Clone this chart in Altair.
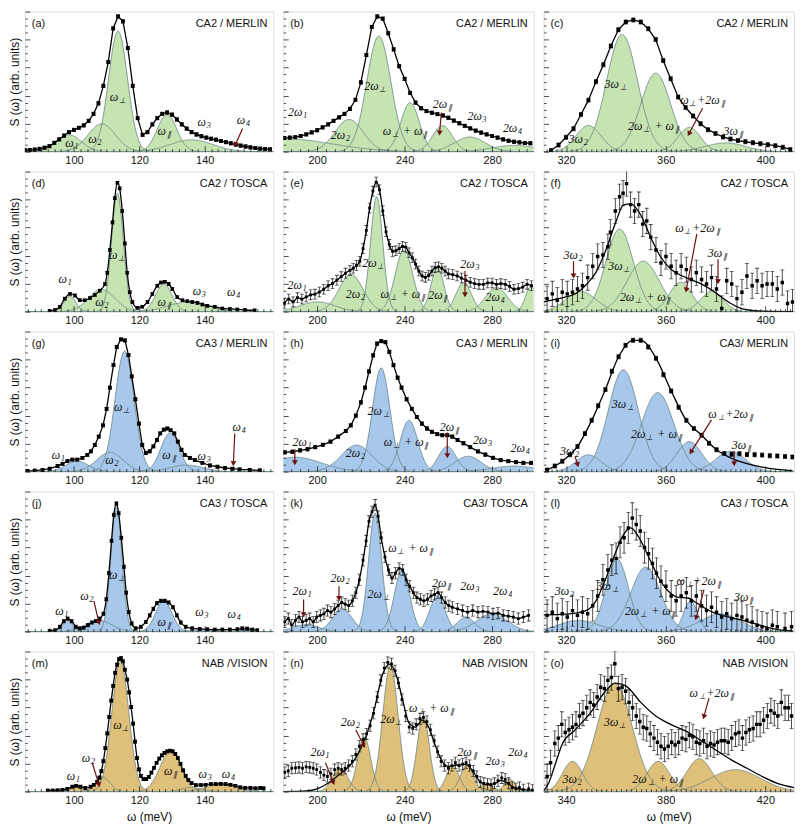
import math
import altair as alt
import numpy as np
import pandas as pd

# ---------------- data (y in % of panel height) ----------------
A_X = [85.0, 86.5, 88.0, 89.5, 91.0, 92.5, 94.0, 95.5, 97.0, 98.5, 100.0, 101.5, 103.0, 104.5, 106.0, 107.5, 109.0, 110.5, 112.0, 113.5, 115.0, 116.5, 118.0, 119.5, 121.0, 122.5, 124.0, 125.5, 127.0, 128.5, 130.0, 131.5, 133.0, 134.5, 136.0, 137.5, 139.0, 140.5, 142.0, 143.5, 145.0, 146.5, 148.0, 149.5, 151.0, 152.5, 154.0, 155.5, 157.0, 158.5, 160.0]
A_Y = [1.0, 1.2, 1.5, 2.0, 2.8, 4.0, 6.3, 8.8, 11.5, 14.0, 15.6, 17.0, 18.8, 22.0, 27.0, 34.5, 47.0, 64.0, 88.0, 96.5, 93.0, 74.0, 47.0, 24.0, 12.0, 14.0, 19.5, 24.0, 27.0, 28.0, 26.5, 23.0, 19.5, 16.5, 14.0, 12.3, 11.0, 10.0, 9.2, 8.5, 7.6, 6.8, 6.0, 5.0, 4.3, 3.7, 3.1, 2.6, 2.2, 1.9, 1.6]
A_COMPS = [(98.5, 12, 3.8), (108.5, 19.8, 4.2), (113.5, 86, 2.9), (128.5, 26.5, 3.0), (136, 8.5, 6.5)]
A_LABELS = [(113.5, 39, "ω_⊥"), (99.5, 6, "ω_1"), (106.6, 9, "ω_2"), (127.8, 15, "ω_∥"), (140, 21, "ω_3"), (152, 22.5, "ω_4")]
A_ARROWS = [(151.6, 16.5, 149.5, 5.5)]

B_X = [185, 187.5, 190, 192.5, 195, 197.5, 200, 202.5, 205, 207.5, 210, 212.5, 215, 217.5, 220, 222.5, 225, 227.5, 230, 232.5, 235, 237.5, 240, 242.5, 245, 247.5, 250, 252.5, 255, 257.5, 260, 262.5, 265, 267.5, 270, 272.5, 275, 277.5, 280, 282.5, 285, 287.5, 290, 292.5, 295, 297.5]
B_Y = [9.8, 10.0, 10.4, 11.2, 12.4, 13.8, 15.3, 17.3, 19.5, 22.0, 24.5, 27.0, 30.5, 37.0, 49.5, 69.0, 89.0, 96.5, 95.0, 84.5, 73.0, 61.0, 52.0, 42.0, 35.0, 31.0, 29.0, 27.8, 26.8, 25.8, 24.2, 22.2, 20.3, 18.4, 16.6, 15.0, 13.6, 12.4, 11.2, 10.0, 8.8, 7.8, 7.1, 6.6, 6.2, 6.0]
B_COMPS = [(184.5, 9.3, 22), (214.6, 23, 6.5), (228.2, 82.5, 5.5), (242.5, 35, 4.2), (257.3, 18.6, 4.5), (269.8, 10.5, 7), (290, 4.5, 10)]
B_LABELS = [(191.3, 28, "2ω_1"), (210.8, 11.6, "2ω_2"), (226.7, 47, "2ω_⊥"), (240.5, 14.5, "ω_⊥ + ω_∥"), (257.5, 34, "2ω_∥"), (273.3, 25.6, "2ω_3"), (289.5, 17, "2ω_4")]
B_ARROWS = [(256.8, 28, 256, 14)]

C_X = [314, 317, 320, 323, 326, 329, 332, 335, 338, 341, 344, 347, 350, 353, 356, 359, 362, 365, 368, 371, 374, 377, 380, 383, 386, 389, 392, 395, 398, 401, 404, 407, 410]
C_Y = [0.8, 4.7, 10.3, 16.4, 26.5, 36.8, 50.0, 62.0, 75.5, 87.0, 92.6, 94.0, 92.6, 87.7, 80.0, 65.0, 52.0, 39.0, 31.5, 25.5, 20.0, 15.7, 13.0, 10.5, 9.0, 7.9, 7.1, 6.3, 5.7, 5.0, 4.3, 3.2, 1.6]
C_COMPS = [(329, 18.7, 5), (342.5, 83.6, 6.2), (356, 56, 6), (369.5, 17.3, 4.5), (384, 6.3, 8)]
C_LABELS = [(325, 8.7, "3ω_2"), (340, 48.5, "3ω_⊥"), (355.3, 18, "2ω_⊥ + ω_∥"), (375, 37, "ω_⊥+2ω_∥"), (387.3, 14.5, "3ω_∥")]
C_ARROWS = [(374.8, 31, 369.5, 13.3)]

D_X = [92.6, 94.2, 95.7, 97.2, 98.8, 100.3, 101.8, 103.3, 104.9, 106.4, 107.9, 109.5, 110.2, 111.0, 111.8, 112.5, 113.3, 114.0, 114.8, 115.6, 116.3, 117.1, 117.9, 119.4, 120.9, 122.5, 124.0, 125.5, 126.6, 127.8, 129.0, 130.1, 131.6, 133.2, 134.7, 136.2, 137.8, 139.3, 140.8, 143.1, 145.4, 147.7, 150.0, 152.3, 155.3]
D_Y = [0.5, 1.2, 3.5, 9.3, 12.7, 11.6, 8.1, 8.1, 9.7, 12.0, 15.0, 19.7, 27.8, 44.0, 63.7, 81.0, 92.0, 88.0, 71.8, 48.6, 27.8, 13.9, 6.9, 2.8, 3.5, 6.9, 12.7, 18.5, 20.8, 21.3, 19.7, 16.2, 10.4, 8.1, 7.4, 6.9, 6.3, 5.1, 4.2, 3.5, 2.3, 1.9, 1.6, 1.2, 0.9]
D_COMPS = [(98.8, 11, 1.8), (108.5, 16, 4), (113.3, 84.5, 1.8), (127.5, 19.7, 2.5), (135, 7, 6)]
D_LABELS = [(97.5, 23, "ω_1"), (108.7, 7, "ω_2"), (113.3, 40.5, "ω_⊥"), (127.8, 7, "ω_∥"), (138.5, 15, "ω_3"), (149, 14, "ω_4")]
D_ARROWS = []

E_X = [185, 187, 189, 191, 193, 195, 197, 199, 201, 203, 205, 207, 209, 211, 213, 215, 216.5, 218, 219.5, 221, 222.5, 224, 225.5, 227, 228.5, 230, 231.5, 233, 234.5, 236, 237.5, 239, 240.5, 242, 243.5, 245, 246.5, 248, 249.5, 251, 252.5, 254, 255.5, 257, 258.5, 260, 262, 264, 266, 268, 270, 272, 274, 276, 278, 280, 282, 284, 286, 288, 290, 292, 294, 296, 298]
E_Y = [6, 9, 7, 10, 9, 10.5, 12, 12.5, 14, 16, 18.5, 20, 22.5, 25, 27.5, 29.5, 31, 33, 36, 45, 58, 74, 86, 92.5, 87, 72, 57, 48, 43, 43.5, 45, 46.5, 46, 42, 38.5, 34, 29, 25.5, 24.5, 26, 29, 31.5, 32, 31, 29, 27, 26.5, 25.5, 24, 22.5, 21, 20, 19.5, 19.5, 20.5, 20.5, 19.5, 20, 19.5, 18, 16, 16.5, 17.5, 19.5, 18.5]
E_COMPS = [(200, 7, 8), (215.5, 26.6, 5.5), (227.2, 82, 2.8), (239.7, 44, 4), (255, 31, 3), (267, 20.8, 3.5), (282, 17.4, 5), (297.8, 18, 2.5)]
E_LABELS = [(191, 19, "2ω_1"), (217.7, 12.7, "2ω_2"), (225.8, 34.7, "2ω_⊥"), (239.5, 12.7, "ω_⊥ + ω_∥"), (255.5, 11.6, "2ω_∥"), (270, 34, "2ω_3"), (281.6, 10.4, "2ω_4")]
E_ARROWS = [(267.6, 29, 267.6, 12.7)]

F_X = [312.4, 314.5, 316.5, 318.5, 320.5, 322.6, 324.6, 326.6, 328.7, 330.7, 332.7, 334.8, 336.8, 337.8, 339.8, 341.5, 342.9, 344.3, 345.9, 347.5, 349.2, 350.8, 352.4, 354.0, 356.1, 358.1, 360.1, 362.2, 364.2, 366.2, 368.3, 370.3, 372.3, 374.4, 376.4, 378.4, 380.4, 382.5, 384.5, 386.5, 388.6, 390.6, 392.6, 394.7, 396.7, 398.7, 400.7, 402.8, 404.8, 406.8, 408.9, 410.9]
F_Y = [9.3, 12.7, 8.1, 13.9, 12.7, 13.9, 16.2, 18.5, 24.3, 32.4, 39.4, 40.5, 46.3, 56.7, 71.8, 82, 84.5, 91.4, 76.4, 71.8, 76.4, 62.5, 64.8, 53.2, 44, 34.7, 39.4, 32.4, 27.8, 32.4, 30, 23, 27.8, 23, 19.7, 24.3, 16.2, 2.3, 22, 19.7, 9.3, 13.9, 25.5, 18.5, 22, 18.5, 19.7, 19.7, 16.2, 20.8, 5.8, 6.9]
F_FIT_X = [311, 316, 320, 324, 328, 332, 336, 340, 343, 346, 350, 354, 358, 362, 366, 370, 374, 378, 382, 386, 390, 395, 400, 411]
F_FIT_Y = [7, 9, 10.5, 13, 19, 28, 44, 64, 76, 77, 69, 53, 39, 30.5, 26, 23, 20, 16, 11, 6, 2.5, 0.8, 0.3, 0]
F_COMPS = [(326, 14.4, 6), (341.5, 59, 5.5), (351, 36, 6.5), (366, 21, 4.5), (378.5, 14.4, 4.5)]
F_LABELS = [(323, 40.5, "3ω_2"), (341.5, 32.4, "3ω_⊥"), (352, 10.4, "2ω_⊥ + ω_∥"), (373, 60, "ω_⊥+2ω_∥"), (381, 42, "3ω_∥")]
F_ARROWS = [(323, 36, 323, 26), (372.5, 55.5, 368.3, 16), (381, 37.5, 381, 22)]

G_X = [85.8, 88, 90.4, 92.6, 95, 96.5, 98, 99.5, 101, 102.6, 104.1, 105.2, 106.4, 107.6, 108.9, 110, 111, 112.1, 113.1, 114.4, 115.6, 116.7, 117.7, 118.8, 119.9, 120.9, 122, 123.2, 124.3, 125.4, 126.4, 127.5, 128.6, 129.6, 130.7, 131.8, 132.9, 133.9, 135.5, 137, 139.3, 141.6, 143.9, 146.2, 148.5, 150.7, 153.8, 156.9]
G_Y = [0.5, 0.7, 1.2, 2.1, 4, 5.6, 7.5, 8.6, 8.6, 9.8, 12, 14.5, 19, 25, 33, 44.8, 60, 76, 89, 94.4, 93.7, 83.2, 68, 51.7, 34.3, 19, 13.3, 14.5, 18, 22.6, 27.3, 30, 30.8, 29.6, 27.3, 21.4, 15.6, 12, 9.8, 8.2, 6.3, 4.4, 3.5, 2.6, 2.1, 1.6, 1.2, 0.9]
G_COMPS = [(101, 7.5, 3.5), (111, 13.8, 4), (115.5, 86, 2.9), (129.4, 27.7, 2.8), (134.5, 4.7, 5)]
G_LABELS = [(95.4, 12, "ω_1"), (111.8, 8.6, "ω_2"), (114.8, 46, "ω_⊥"), (129.3, 12, "ω_∥"), (140, 11, "ω_3"), (150.7, 31.5, "ω_4")]
G_ARROWS = [(149.2, 27.3, 148.8, 6.3)]

H_X = [185.2, 188.7, 192.2, 195.6, 199.1, 202.6, 206.1, 209.6, 213.1, 215.4, 217.7, 220, 221.9, 223.7, 225.6, 227.4, 229.3, 231.2, 233, 234.9, 236.8, 238.6, 240.9, 243.3, 245.6, 247.9, 250.2, 252.5, 254.9, 257.2, 259.5, 261.8, 264.2, 266.9, 270, 273.5, 276.9, 280.4, 283.9, 287.4, 290.9, 294.3, 297.8]
H_Y = [13.8, 14.2, 15.2, 16, 17.5, 19.1, 21.4, 25, 29, 33, 40, 49.4, 60, 71.5, 83, 91.4, 93.2, 92.5, 85.5, 76, 67, 60, 51.7, 44.8, 39, 34.3, 30.8, 28.4, 26.8, 26.1, 26.1, 25, 22.6, 20.3, 17.5, 14.5, 12.1, 9.8, 8.2, 7.5, 6.8, 6.3, 6.3]
H_COMPS = [(190, 10.3, 12), (218, 19, 7), (229.3, 74, 4), (242, 36.6, 4), (259.5, 18, 4), (269, 11, 6), (290, 4, 10)]
H_LABELS = [(193.3, 21.4, "2ω_1"), (217.7, 13.3, "2ω_2"), (228.2, 43.6, "2ω_⊥"), (241, 21.4, "ω_⊥ + ω_∥"), (260.7, 32, "2ω_∥"), (275.8, 22.6, "2ω_3"), (293, 16.8, "2ω_4")]
H_ARROWS = [(189.8, 16, 189.8, 7), (259.5, 28, 259.5, 12)]

I_X = [312.4, 315.5, 318.5, 321.6, 324.6, 327.6, 330.3, 332.9, 335.8, 338.4, 341.1, 343.9, 346.9, 350, 353, 356.1, 359.1, 362.2, 365.2, 368.3, 371.3, 374.4, 377.4, 380.4, 383.5, 386.5, 389.6, 392.6, 395.7, 398.7, 401.8, 404.8, 407.9, 410.9]
I_Y = [1.2, 4, 7.5, 12.1, 18, 27.3, 36.6, 47, 58.7, 71.6, 82, 90.2, 93.7, 93.7, 89, 81, 69.2, 57.6, 46, 36.6, 30.8, 26, 20.3, 15.6, 13, 12.5, 12.8, 12.3, 12, 11.8, 11.4, 11.2, 10.8, 10.5]
I_FIT_X = [312.4, 318.5, 324.6, 330.3, 335.8, 341.1, 346.9, 350, 356.1, 362.2, 368.3, 374.4, 380.4, 386.5, 392.6, 398.7, 404.8, 410.9]
I_FIT_Y = [1.2, 7.5, 18, 36.6, 58.7, 82, 93.7, 93.7, 81, 57.6, 36.6, 26, 15.6, 9.5, 5.8, 3.3, 1.7, 0.8]
I_COMPS = [(329, 12, 5), (343, 72.7, 6), (356.8, 56.4, 6.5), (369.5, 21.4, 5), (386, 14.5, 6)]
I_LABELS = [(321.6, 14.5, "3ω_2"), (342.9, 48, "3ω_⊥"), (356.5, 27, "2ω_⊥ + ω_∥"), (386.3, 41, "ω_⊥+2ω_∥"), (390.6, 19, "3ω_∥")]
I_ARROWS = [(323.6, 11, 324.6, 5.5), (378.4, 37, 370.3, 14.5), (387.5, 15, 387.5, 6.3)]

J_X = [92.6, 94.2, 95.7, 96.9, 98.1, 99.3, 100.6, 101.8, 103, 104.3, 105.5, 106.7, 107.9, 109, 109.9, 110.7, 111.5, 112.2, 113, 113.7, 114.5, 115.3, 116, 116.8, 117.7, 118.9, 120.5, 122, 123.2, 124.3, 125.4, 126.6, 127.8, 129, 130.3, 131.5, 132.7, 134.2, 136.2, 138.5, 140.8, 143.1, 145.4, 147.7, 150, 151.5, 153, 154.6, 156.1]
J_Y = [0.5, 0.9, 3.5, 7.4, 9.3, 7.4, 3.5, 2.3, 2.8, 4.6, 6.5, 7.6, 9.3, 12.7, 23.1, 41.7, 64.8, 83.3, 91.4, 84.5, 67, 46.3, 27.8, 13.9, 5.8, 2.3, 3.5, 6.9, 11.6, 16.2, 20.4, 22, 22, 20.8, 17.4, 11.6, 6.5, 3.5, 2.3, 1.9, 1.6, 1.4, 1.4, 1.4, 1.6, 2.3, 2.1, 1.4, 0.9]
J_COMPS = [(98.1, 8, 1.5), (107.5, 8.1, 4), (113, 89, 1.7), (127.5, 22, 2.5), (140, 1.2, 4), (152, 1.5, 2)]
J_LABELS = [(96.5, 15, "ω_1"), (104.1, 25.5, "ω_2"), (113.3, 40.5, "ω_⊥"), (127.8, 7, "ω_∥"), (139.3, 14, "ω_3"), (149.2, 12.7, "ω_4")]
J_ARROWS = [(106.1, 22, 107.6, 7)]

K_X = [185.2, 186.8, 188.4, 190.1, 191.7, 193.3, 195, 196.6, 198.2, 199.8, 201.5, 203.1, 204.7, 206.3, 208, 209.6, 211.2, 212.8, 214.4, 216.1, 217.7, 219.3, 221, 222.4, 223.7, 225.1, 226.5, 227.9, 229.3, 231, 232.6, 234.2, 235.8, 237.5, 239.1, 240.7, 242.3, 244, 245.6, 247.2, 248.8, 250.5, 252.1, 253.7, 255.3, 256.9, 258.6, 260.2, 261.8, 264.2, 266.5, 268.8, 271.1, 273.5, 275.8, 278.1, 280.4, 282.7, 285.1, 287.4, 289.7, 292, 294.3, 296.7]
K_Y = [6.9, 9.3, 4.6, 8.1, 10.4, 6.9, 8.1, 9.3, 6.9, 10.4, 11.6, 12.7, 15, 13.9, 16.2, 18.5, 20.8, 19.7, 18.5, 22, 27.8, 37, 51, 64.8, 78.7, 85.6, 90.3, 82.2, 67, 53.2, 44, 38.2, 41.7, 45.1, 44, 37, 32.4, 27.8, 24.3, 23.1, 22, 23.1, 25.5, 26.6, 27.8, 24.3, 20.8, 18.5, 17.4, 16.2, 15, 13.9, 15, 13.9, 14.4, 13.9, 12.7, 13.2, 11.6, 11.1, 10.4, 9.3, 10.4, 11.6]
K_COMPS = [(195, 5, 6), (211.5, 16, 4.5), (226.5, 84.5, 3), (238.8, 44, 3.5), (255, 25.5, 3.5), (268, 10.4, 4), (280, 12.7, 7)]
K_LABELS = [(193.3, 29, "2ω_1"), (210.7, 38, "2ω_2"), (228.2, 26.6, "2ω_⊥"), (243, 60, "ω_⊥ + ω_∥"), (257.2, 34.7, "2ω_∥"), (270, 32.4, "2ω_3"), (285, 29, "2ω_4")]
K_ARROWS = [(193.8, 23, 193.8, 12.7), (210, 32.4, 210, 24.3)]

L_X = [312.4, 314.5, 316.5, 318.5, 320.5, 322.6, 324.6, 326.6, 328.7, 330.7, 332.7, 334.8, 336.8, 338.4, 340.1, 341.7, 343.3, 345, 346.6, 348.2, 349.8, 351.5, 353.1, 354.7, 356.3, 358.1, 360.1, 362.2, 364.2, 366.2, 368.3, 370.3, 372.3, 374.4, 376.4, 378.4, 380.4, 382.5, 384.5, 386.5, 388.6, 390.6, 392.6, 394.7, 396.7, 398.7, 400.7, 402.8, 404.8, 407.9, 410.5]
L_Y = [11.6, 13.9, 9.3, 12.7, 10.4, 15, 11.6, 13.9, 12.7, 18.5, 25.5, 37, 44, 51, 52.3, 63.7, 67, 74, 81, 76.4, 71.8, 60, 55.6, 48.6, 41.7, 35.9, 32.4, 25.5, 22, 25.5, 27.8, 22, 25.5, 18.5, 15, 17.4, 13.9, 10.4, 12.7, 9.3, 11.6, 10.4, 8.1, 6.9, 4.6, 3.5, 2.3, 4.6, 3.5, 2.3, 3.5]
L_FIT_X = [311, 320, 328, 332, 336, 340, 343, 346, 349, 353, 357, 361, 365, 369, 372, 376, 380, 385, 390, 395, 400, 405, 411]
L_FIT_Y = [12, 12.5, 15, 22, 38, 57, 69, 74, 68, 54, 39, 29, 24.5, 24, 21, 16.5, 13, 10.5, 8.5, 6, 3.5, 1.5, 0.5]
L_COMPS = [(325, 8, 8), (340.5, 52, 4.5), (352, 46, 6), (370, 22, 2.8), (382, 12.7, 8)]
L_LABELS = [(319.5, 29, "3ω_2"), (336.8, 32.4, "3ω_⊥"), (354, 15, "2ω_⊥ + ω_∥"), (373.5, 36, "ω_⊥+2ω_∥"), (391.5, 25, "3ω_∥")]
L_ARROWS = [(375.4, 30, 372.3, 10.4)]

M_X = [92, 93.5, 95, 96.5, 98, 99.5, 100.7, 102, 103.5, 105.1, 106.1, 107.1, 107.8, 108.4, 109, 109.6, 110.2, 110.8, 111.4, 112, 112.6, 113.2, 113.8, 114.4, 115, 115.6, 116.3, 116.9, 117.5, 118.1, 118.7, 119.3, 119.9, 120.5, 121.3, 122.1, 122.9, 123.7, 124.5, 125.3, 126.1, 126.9, 127.7, 128.5, 129.4, 130.2, 131, 131.8, 132.6, 133.4, 134.2, 135, 136, 137.3, 138.8, 140.3, 141.9, 143.4, 144.9, 146.4, 147.9, 149.4, 150.9, 152.4, 154, 155.5, 157, 158]
M_Y = [0.7, 0.7, 0.9, 1.2, 1.9, 3.5, 4.2, 3.5, 2.6, 3.5, 4.9, 7, 10, 14.7, 21.7, 31, 41.6, 53.3, 65, 75.5, 84.8, 90.7, 94.6, 95.3, 93, 87, 80, 70.8, 60.3, 48.6, 35.7, 24, 15.9, 11.2, 8.9, 8.9, 10.5, 13.6, 17, 20.6, 23.6, 25.9, 27.6, 28.7, 29.2, 28.7, 26.9, 24, 19.9, 15.2, 11.2, 8.2, 6.1, 4.7, 4.7, 4.9, 5.4, 5.4, 5.6, 5.4, 4.9, 4.2, 3, 2.6, 2.6, 2.3, 2.6, 2.3]
M_COMPS = [(100.7, 3.5, 1.8), (108.8, 10.5, 2.2), (114.2, 93, 2.6), (129.6, 28.7, 3.3), (136, 3, 3), (145, 5.4, 4.5)]
M_LABELS = [(100, 11.2, "ω_1"), (104.6, 24, "ω_2"), (114.6, 47.4, "ω_⊥"), (129.8, 14.7, "ω_∥"), (140.3, 12.4, "ω_3"), (147.4, 12.4, "ω_4")]
M_ARROWS = [(105.6, 20.6, 107.6, 5.4)]

N_X = [185.2, 186.8, 188.4, 190.1, 191.7, 193.3, 195, 196.6, 198.2, 199.8, 201.5, 203.1, 204.7, 206.3, 208, 209.6, 211.2, 212.8, 214.4, 216.1, 217.7, 219.3, 221, 222.6, 224.2, 225.8, 227.5, 229.1, 230.7, 232.3, 234, 235.6, 237.2, 238.8, 240.5, 242.1, 243.7, 245.3, 247, 248.6, 250.2, 251.8, 253.5, 255.1, 256.7, 258.3, 260, 261.6, 263.2, 264.9, 266.5, 268.1, 269.7, 271.4, 273, 274.6, 276.2, 277.9, 279.5, 281.1, 282.7, 284.4, 286, 287.6, 289.2, 290.9, 292.5, 294.3, 296.7, 298.5]
N_Y = [13.7, 14.7, 16.7, 17, 17.3, 16.7, 17.6, 17.3, 16.7, 15.7, 13.7, 11.8, 10.8, 12.7, 15.7, 16.7, 15.7, 16.7, 18.6, 21.6, 26.5, 32.4, 37.3, 41.2, 47, 55.9, 67.6, 79.4, 88.2, 92.2, 91.2, 86.3, 77.5, 65.7, 53.9, 46, 45.1, 48, 52, 53, 50, 44.1, 36.3, 28.4, 21.6, 18.6, 16.7, 18.6, 20.6, 18.6, 19.6, 20.6, 18.6, 14.7, 10.8, 6.9, 5.9, 5.3, 4.9, 5.9, 7.8, 9.8, 8.8, 5.9, 2.9, 2, 2.9, 1.4, 2, 1]
N_FIT_X = [184.5, 195, 200, 205, 210, 214, 218, 222, 226, 230, 233, 236, 239, 242, 245, 248, 251, 254, 257, 260, 264, 268, 271, 274, 277, 281, 284, 287, 290, 294, 299]
N_FIT_Y = [0, 0.5, 2, 6, 12, 17, 25, 38, 58, 84, 91, 84, 66, 49, 46, 51, 46, 33, 22, 18, 19, 19.5, 15, 8, 5, 5.5, 8, 6, 3, 1.5, 1]
N_COMPS = [(210.5, 16.7, 3.5), (221.5, 39, 3), (233.5, 90, 3.5), (248.5, 54, 2.8), (262, 18, 3), (268.5, 19, 3), (277.5, 6, 3), (288, 8.8, 2.5)]
N_LABELS = [(201.5, 28.4, "2ω_1"), (215.4, 50, "2ω_2"), (234, 52, "2ω_⊥"), (252.5, 60, "ω_⊥ + ω_∥"), (268.8, 28.4, "2ω_∥"), (281.6, 21.6, "2ω_3"), (292, 28.4, "2ω_4")]
N_ARROWS = [(203.8, 20.6, 207.3, 6.9), (217.7, 44, 221.2, 33.3)]

O_X = [332.4, 333.8, 335.5, 336.9, 338.3, 339.7, 341.2, 342.6, 344, 345.4, 346.8, 348.3, 349.7, 351.1, 352.5, 353.9, 355.4, 356.8, 358.2, 359.6, 361, 362.5, 363.9, 365.3, 366.7, 368.2, 369.6, 371, 372.4, 373.8, 375.3, 376.7, 378.1, 379.5, 381, 382.4, 383.8, 385.2, 386.6, 388.1, 389.5, 390.9, 392.3, 393.7, 395.2, 396.6, 398, 399.4, 400.8, 402.3, 403.7, 405.1, 406.5, 408, 409.4, 410.8, 412.2, 413.6, 415.1, 416.5, 417.9, 419.3, 420.8, 422.2, 423.6, 425, 426.4, 427.9, 429.3, 430.5]
O_Y = [10.8, 20.6, 34.3, 38.2, 48, 42.2, 44.1, 46, 48, 54, 56, 59.8, 63.7, 61.8, 67.6, 74.5, 73.5, 79.4, 81.4, 91.2, 73.5, 74.5, 71.6, 63.7, 59.8, 54, 50, 46, 45.1, 41.2, 38.2, 35.3, 32.4, 30.4, 32.4, 35.3, 33.3, 35.3, 38.2, 37.3, 40.2, 39.2, 35.3, 34.3, 36.3, 32.4, 34.3, 33.3, 35.3, 36.3, 36.3, 35.3, 38.2, 41.2, 42.2, 38.2, 42.2, 44.1, 45.1, 48, 48, 51, 54, 57.8, 55.9, 54, 63.7, 59.8, 59.8, 54]
O_FIT_X = [331, 333, 335.5, 338.5, 343.6, 349.7, 355.8, 359.8, 364, 370, 376, 382, 388.3, 394.3, 400.4, 406.5, 412.6, 418.7, 424.8, 431.5]
O_FIT_Y = [0.5, 6, 18.6, 34, 44, 56, 71.6, 77.5, 75.5, 63.7, 54, 48, 43, 36.3, 29.4, 22.5, 16.7, 10.8, 5.9, 2.9]
O_COMPS = [(342.6, 21.6, 4), (359.5, 77.5, 7), (377, 21.6, 4.5), (393.5, 23.5, 5), (408, 15.7, 10)]
O_LABELS = [(342.6, 8.8, "3ω_2"), (359.8, 50, "3ω_⊥"), (377, 8.8, "2ω_⊥ + ω_∥"), (398.7, 70.6, "ω_⊥+2ω_∥")]
O_ARROWS = [(397.4, 66.7, 395.4, 54)]

LETTERS = ["(a)", "(b)", "(c)", "(d)", "(e)", "(f)", "(g)", "(h)", "(i)", "(j)", "(k)", "(l)", "(m)", "(n)", "(o)"]
TITLES = ["CA2 / MERLIN", "CA2 / MERLIN", "CA2 / MERLIN", "CA2 / TOSCA", "CA2 / TOSCA", "CA2 / TOSCA",
          "CA3 / MERLIN", "CA3 / MERLIN", "CA3/ MERLIN", "CA3 / TOSCA", "CA3/ TOSCA", "CA3 / TOSCA",
          "NAB /VISION", "NAB /VISION", "NAB /VISION"]
ERRORS = [1.2, 1.2, 1.5, 1.0, 3.5, 9, 1.0, 1.2, 1.5, 1.2, 4, 11, 1.0, 4, 9]
X_DOMAINS = [[85, 161], [184.5, 299], [311, 411.5], [85, 161], [184.5, 299], [311, 411.5],
             [85, 161], [184.5, 299], [311, 411.5], [85, 161], [184.5, 299], [311, 411.5],
             [85, 161], [184.5, 299], [331, 431.5]]
MAJOR_TICKS = [[100, 120, 140], [200, 240, 280], [320, 360, 400]] * 4 + [[100, 120, 140], [200, 240, 280], [340, 380, 420]]

# ---------------- styling ----------------
ROW_FILL = ["#c6e4b1", "#c6e4b1", "#a7c7eb", "#a7c7eb", "#dfc07a"]
OUTLINE = "#6a8484"
ARROW = "#6d1212"
SANS = "Liberation Sans"
SERIF = "Liberation Serif"
COL_W = [250, 252, 252]
PH = 141
SMOOTH = [False, False, False, True, True, False, False, False, False, True, True, False, True, False, False]
PT_SIZE = [15, 15, 16, 12, 8, 12, 15, 15, 16, 12, 8, 12, 14, 8, 12]

PANEL_DATA = [
    (A_X, A_Y, None, None, A_COMPS, A_LABELS, A_ARROWS),
    (B_X, B_Y, None, None, B_COMPS, B_LABELS, B_ARROWS),
    (C_X, C_Y, None, None, C_COMPS, C_LABELS, C_ARROWS),
    (D_X, D_Y, None, None, D_COMPS, D_LABELS, D_ARROWS),
    (E_X, E_Y, None, None, E_COMPS, E_LABELS, E_ARROWS),
    (F_X, F_Y, F_FIT_X, F_FIT_Y, F_COMPS, F_LABELS, F_ARROWS),
    (G_X, G_Y, None, None, G_COMPS, G_LABELS, G_ARROWS),
    (H_X, H_Y, None, None, H_COMPS, H_LABELS, H_ARROWS),
    (I_X, I_Y, I_FIT_X, I_FIT_Y, I_COMPS, I_LABELS, I_ARROWS),
    (J_X, J_Y, None, None, J_COMPS, J_LABELS, J_ARROWS),
    (K_X, K_Y, None, None, K_COMPS, K_LABELS, K_ARROWS),
    (L_X, L_Y, L_FIT_X, L_FIT_Y, L_COMPS, L_LABELS, L_ARROWS),
    (M_X, M_Y, None, None, M_COMPS, M_LABELS, M_ARROWS),
    (N_X, N_Y, N_FIT_X, N_FIT_Y, N_COMPS, N_LABELS, N_ARROWS),
    (O_X, O_Y, O_FIT_X, O_FIT_Y, O_COMPS, O_LABELS, O_ARROWS),
]

MAIN_W = {"ω": 8.8, "2": 6.2, "3": 6.2, "+": 7.5, " ": 3.2}
SUB_W = {"⊥": 7.0, "∥": 4.8, "1": 4.4, "2": 4.4, "3": 4.4, "4": 4.4}
GAP = 1.8


def parse(s):
    segs, main, i = [], "", 0
    while i < len(s):
        if s[i] == "_":
            segs.append((main, s[i + 1]))
            main = ""
            i += 2
        else:
            main += s[i]
            i += 1
    if main:
        segs.append((main, ""))
    return segs


def label_frames(labels, dom, sx):
    mains, subs = [], []
    for cx, cy, s in labels:
        segs = parse(s)
        total = sum(sum(MAIN_W.get(c, 6) for c in m) + SUB_W.get(sb, 0) + GAP for m, sb in segs)
        cur = (cx - dom[0]) * sx - total / 2
        for m, sb in segs:
            anchor = cur + sum(MAIN_W.get(c, 6) for c in m)
            xa = dom[0] + anchor / sx
            mains.append({"x": xa, "y": cy, "t": m})
            if sb:
                subs.append({"x": xa + 0.8 / sx, "y": cy, "t": sb})
            cur = anchor + SUB_W.get(sb, 0) + GAP
    return pd.DataFrame(mains), pd.DataFrame(subs)


def comp_frame(comps, dom):
    grid = np.linspace(dom[0], dom[1], 500)
    rows = []
    for k, (c, h, s) in enumerate(comps):
        vals = h * np.exp(-0.5 * ((grid - c) / s) ** 2)
        rows += [(k, float(a), float(b)) for a, b in zip(grid, vals)]
    return pd.DataFrame(rows, columns=["comp", "x", "y"])


def make_panel(idx):
    row, col = divmod(idx, 3)
    W = COL_W[col]
    dom = X_DOMAINS[idx]
    sx = W / (dom[1] - dom[0])
    sy = PH / 100.0
    xs, ys, fx, fy, comps, labels, arrows = PANEL_DATA[idx]
    err = ERRORS[idx]
    xsc = alt.Scale(domain=dom, nice=False, zero=False)
    ysc = alt.Scale(domain=[0, 100], nice=False, zero=False)
    majors = MAJOR_TICKS[idx]

    bkw = dict(values=majors, ticks=False, domain=False, grid=False, labelFontSize=11,
               labelPadding=3, labelFont=SANS, labelColor="#111")
    if row == 4:
        bkw.update(title="ω (meV)", titleFont=SANS, titleFontSize=12, titleFontWeight="normal",
                   titlePadding=6, titleColor="#111")
    else:
        bkw.update(title=None)
    bottom_axis = alt.Axis(**bkw)

    step = 4 if col == 1 else 2
    minor = [v for v in range(int(math.ceil(dom[0])), int(dom[1]) + 1) if v % step == 0]
    test = "indexof(" + str(majors) + ", datum.value) >= 0"
    top_axis = alt.Axis(orient="top", offset=-PH, values=minor, labels=False, domain=False, grid=False,
                        ticks=True, tickColor="#222", tickWidth=0.8, zindex=2, title=None,
                        tickSize={"condition": {"test": test, "value": 6}, "value": 3})
    right_axis = alt.Axis(orient="right", offset=-W, values=list(range(0, 101, 5)), labels=False,
                          domain=False, grid=False, ticks=True, tickColor="#222", tickWidth=0.8,
                          zindex=2, title=None,
                          tickSize={"condition": {"test": "datum.value % 20 === 0", "value": 5}, "value": 2.5})
    if col == 0:
        left_axis = alt.Axis(title="S (ω) (arb. units)", labels=False, ticks=False, domain=False, grid=False,
                             titleFont=SANS, titleFontSize=12, titleFontWeight="normal", titlePadding=3,
                             titleColor="#111")
    else:
        left_axis = None

    cdf = comp_frame(comps, dom)
    fills = alt.Chart(cdf).mark_area(color=ROW_FILL[row], opacity=1, clip=True).encode(
        x=alt.X("x:Q", scale=xsc, axis=bottom_axis),
        y=alt.Y("y:Q", scale=ysc, stack=None, axis=left_axis),
        detail="comp:N")
    outlines = alt.Chart(cdf).mark_line(color=OUTLINE, strokeWidth=0.8, clip=True).encode(
        x=alt.X("x:Q", scale=xsc, axis=top_axis),
        y=alt.Y("y:Q", scale=ysc, axis=right_axis),
        detail="comp:N")

    ddf = pd.DataFrame({"x": xs[:len(ys)], "y": ys[:len(xs)]})
    ddf["lo"] = ddf["y"] - err
    ddf["hi"] = ddf["y"] + err
    X = alt.X("x:Q", scale=xsc, axis=None)
    if fx is not None:
        fdf = pd.DataFrame({"x": fx[:len(fy)], "y": fy[:len(fx)]})
        fit = alt.Chart(fdf).mark_line(color="black", strokeWidth=1.3, interpolate="monotone", clip=True).encode(
            x=X, y=alt.Y("y:Q", scale=ysc, axis=None))
    else:
        fit = alt.Chart(ddf).mark_line(color="black", strokeWidth=1.3,
                                       interpolate="monotone" if SMOOTH[idx] else "linear", clip=True).encode(
            x=X, y=alt.Y("y:Q", scale=ysc, axis=None))
    ebars = alt.Chart(ddf).mark_rule(color="black", strokeWidth=0.7, clip=True).encode(
        x=X, y=alt.Y("lo:Q", scale=ysc, axis=None), y2="hi:Q")
    cap_lo = alt.Chart(ddf).mark_tick(color="black", orient="horizontal", size=4, thickness=0.8, clip=True).encode(
        x=X, y=alt.Y("lo:Q", scale=ysc, axis=None))
    cap_hi = alt.Chart(ddf).mark_tick(color="black", orient="horizontal", size=4, thickness=0.8, clip=True).encode(
        x=X, y=alt.Y("hi:Q", scale=ysc, axis=None))
    pts = alt.Chart(ddf).mark_square(color="black", size=PT_SIZE[idx], opacity=1, clip=True).encode(
        x=X, y=alt.Y("y:Q", scale=ysc, axis=None))

    layers = [fills, outlines, fit, ebars, cap_lo, cap_hi, pts]

    mdf, sdf = label_frames(labels, dom, sx)
    layers.append(alt.Chart(mdf).mark_text(align="right", baseline="middle", font=SERIF, fontStyle="italic",
                                           fontSize=12, color="#111").encode(
        x=X, y=alt.Y("y:Q", scale=ysc, axis=None), text="t:N"))
    if len(sdf):
        layers.append(alt.Chart(sdf).mark_text(align="left", baseline="middle", font=SERIF, fontStyle="italic",
                                               fontSize=8, dy=4, color="#111").encode(
            x=X, y=alt.Y("y:Q", scale=ysc, axis=None), text="t:N"))

    if arrows:
        adf = pd.DataFrame(arrows, columns=["x1", "y1", "x2", "y2"])
        angs = []
        for _, r in adf.iterrows():
            dxp = (r.x2 - r.x1) * sx
            dyp = -(r.y2 - r.y1) * sy
            angs.append(math.degrees(math.atan2(dxp, -dyp)) % 360)
        adf["ang"] = angs
        layers.append(alt.Chart(adf).mark_rule(color=ARROW, strokeWidth=1.2).encode(
            x=alt.X("x1:Q", scale=xsc, axis=None), y=alt.Y("y1:Q", scale=ysc, axis=None),
            x2="x2:Q", y2="y2:Q"))
        layers.append(alt.Chart(adf).mark_point(shape="triangle", filled=True, size=34, color=ARROW, opacity=1).encode(
            x=alt.X("x2:Q", scale=xsc, axis=None), y=alt.Y("y2:Q", scale=ysc, axis=None),
            angle=alt.Angle("ang:Q", scale=None)))

    tdf = pd.DataFrame({"t": [LETTERS[idx]]})
    layers.append(alt.Chart(tdf).mark_text(align="left", baseline="top", font=SANS, fontSize=11, color="#111").encode(
        x=alt.value(7), y=alt.value(7), text="t:N"))
    ndf = pd.DataFrame({"t": [TITLES[idx]]})
    layers.append(alt.Chart(ndf).mark_text(align="right", baseline="top", font=SANS, fontSize=11, color="#111").encode(
        x=alt.value(W - 6), y=alt.value(7), text="t:N"))

    return alt.layer(*layers).resolve_axis(x="independent", y="independent").properties(width=W, height=PH)


panels = [make_panel(i) for i in range(15)]
chart = alt.concat(*panels, columns=3, spacing={"row": 20, "column": 10}, bounds="flush").properties(
    padding=0).configure_view(stroke="#222", strokeWidth=1).configure(background="white")

chart.save("out.html", embed_options={"renderer": "svg", "actions": False})
